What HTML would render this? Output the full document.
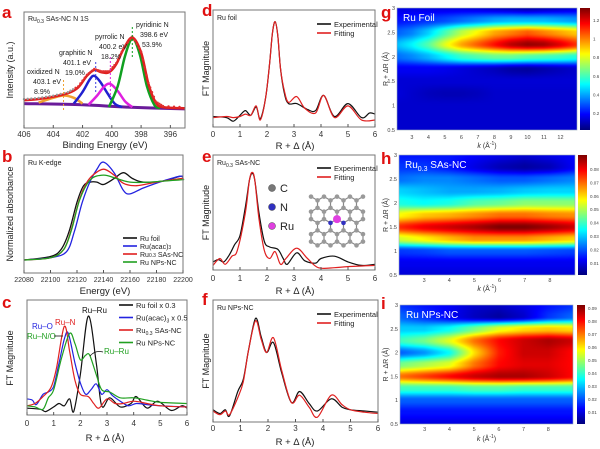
<!DOCTYPE html>
<html><head><meta charset="utf-8">
<style>
html,body{margin:0;padding:0;background:#fff;}
body{width:600px;height:449px;overflow:hidden;position:relative;font-family:"Liberation Sans",sans-serif;}
svg{position:absolute;left:0;top:0;}
canvas{position:absolute;}
</style></head>
<body>
<canvas id="cg" style="left:397px;top:8px" width="180" height="122"></canvas>
<canvas id="ch" style="left:399px;top:155px" width="176" height="120"></canvas>
<canvas id="ci" style="left:400px;top:305px" width="173" height="119"></canvas>
<canvas id="bg" style="left:580px;top:8px" width="10" height="122"></canvas>
<canvas id="bh" style="left:578px;top:155px" width="9" height="120"></canvas>
<canvas id="bi" style="left:577px;top:305px" width="8" height="119"></canvas>
<svg id="s" width="600" height="449" xmlns="http://www.w3.org/2000/svg"></svg>
<script>
// ---------- DATA ----------
const aEnvX=[406,405,404,403,402.3,401.7,401.2,400.7,400.2,399.7,399.2,398.6,398,397.5,397,396.5,395];
const aEnvY=[0.24,0.25,0.27,0.30,0.35,0.45,0.50,0.48,0.48,0.55,0.68,0.78,0.65,0.38,0.22,0.18,0.17];
const aBaseX=[406,402,399,395];
const aBaseY=[0.21,0.2,0.18,0.165];
const aPyrdX=[400.2,399.6,399.1,398.6,398.1,397.6,397.1,396.7];
const aPyrdY=[0.18,0.36,0.62,0.77,0.64,0.36,0.2,0.17];
const aPyrrX=[401.6,401,400.5,400.1,399.6,399.1,398.6];
const aPyrrY=[0.2,0.28,0.36,0.38,0.32,0.23,0.18];
const aGrapX=[402.6,402,401.5,401.2,400.8,400.3,399.8,399.3];
const aGrapY=[0.21,0.31,0.42,0.45,0.4,0.3,0.21,0.18];
const aOxiX=[405,404,403.3,402.6,402];
const aOxiY=[0.22,0.26,0.28,0.26,0.21];
const bFoilX=[22080,22100,22108,22114,22120,22125,22130,22135,22140,22148,22155,22162,22170,22185,22198,22200];
const bFoilY=[0.11,0.14,0.2,0.35,0.6,0.74,0.77,0.77,0.75,0.8,0.85,0.8,0.77,0.78,0.82,0.81];
const bAcacX=[22080,22100,22112,22118,22124,22130,22135,22140,22148,22155,22160,22170,22185,22198,22200];
const bAcacY=[0.11,0.13,0.18,0.35,0.6,0.78,0.88,0.94,0.85,0.7,0.67,0.72,0.78,0.82,0.81];
const bSasX=[22080,22100,22110,22116,22122,22127,22132,22140,22148,22155,22165,22180,22198,22200];
const bSasY=[0.11,0.13,0.2,0.38,0.63,0.76,0.83,0.88,0.83,0.76,0.74,0.77,0.8,0.8];
const bNpsX=[22080,22100,22110,22116,22122,22130,22140,22150,22160,22175,22198,22200];
const bNpsY=[0.11,0.13,0.2,0.37,0.62,0.79,0.83,0.8,0.77,0.77,0.79,0.79];
const cFoilX=[0,0.5,0.7,1.0,1.2,1.4,1.6,1.75,2.0,2.3,2.6,2.8,3.1,3.5,3.9,4.1,4.5,4.9,5.4,5.8,6];
const cFoilY=[0.06,0.05,0.03,0.07,0.1,0.08,0.14,0.03,0.35,0.86,0.45,0.08,0.15,0.07,0.1,0.16,0.06,0.12,0.04,0.08,0.06];
const cAcacX=[0,0.2,0.35,0.6,0.8,1.0,1.2,1.4,1.55,1.8,2.0,2.2,2.4,2.6,2.8,3.0,3.2,3.5,3.8,4.1,4.5,5.0,6];
const cAcacY=[0.14,0.13,0.09,0.18,0.2,0.25,0.45,0.66,0.71,0.45,0.28,0.18,0.22,0.27,0.18,0.22,0.17,0.12,0.08,0.1,0.09,0.08,0.07];
const cSasX=[0,0.3,0.6,0.9,1.1,1.4,1.6,1.8,2.0,2.3,2.5,2.7,3.0,3.3,3.6,4.0,4.5,5,6];
const cSasY=[0.08,0.1,0.16,0.24,0.4,0.77,0.55,0.3,0.18,0.16,0.1,0.06,0.14,0.1,0.1,0.12,0.1,0.08,0.07];
const cNpsX=[0,0.3,0.6,0.8,1.0,1.3,1.6,1.8,2.0,2.2,2.35,2.6,2.8,3.1,3.5,4.0,4.5,5,6];
const cNpsY=[0.08,0.07,0.05,0.15,0.22,0.5,0.71,0.62,0.48,0.52,0.52,0.35,0.22,0.2,0.15,0.15,0.13,0.11,0.1];
const dExpX=[0,0.5,0.75,1.0,1.2,1.4,1.6,1.75,1.95,2.1,2.2,2.3,2.4,2.5,2.65,2.8,3.1,3.5,3.8,4.1,4.5,5.0,5.5,5.8,6];
const dExpY=[0.09,0.08,0.05,0.1,0.14,0.1,0.17,0.07,0.25,0.55,0.8,0.9,0.78,0.5,0.28,0.2,0.2,0.15,0.14,0.27,0.09,0.2,0.08,0.12,0.11];
const dFitX=[0,0.5,0.75,1.0,1.2,1.4,1.6,1.75,1.95,2.1,2.2,2.3,2.4,2.5,2.65,2.8,3.1,3.4,3.8,4.1,4.5,5.0,5.5,6];
const dFitY=[0.08,0.09,0.08,0.09,0.11,0.1,0.18,0.06,0.25,0.55,0.8,0.9,0.78,0.5,0.3,0.21,0.26,0.16,0.12,0.27,0.08,0.18,0.06,0.06];
const eExpX=[0,0.2,0.4,0.6,0.8,1.0,1.2,1.35,1.45,1.55,1.7,1.9,2.1,2.4,2.6,2.75,3.1,3.4,3.8,4.0,4.5,5,5.5,6];
const eExpY=[0.07,0.09,0.07,0.13,0.22,0.3,0.55,0.78,0.84,0.78,0.5,0.25,0.2,0.18,0.1,0.05,0.15,0.08,0.06,0.1,0.12,0.07,0.04,0.05];
const eFitX=[0,0.25,0.45,0.7,0.9,1.2,1.35,1.45,1.55,1.7,1.9,2.1,2.3,2.5,2.7,3.1,3.5,3.9,4.5,5,6];
const eFitY=[0.04,0.1,0.05,0.12,0.17,0.5,0.78,0.85,0.78,0.45,0.17,0.1,0.16,0.05,0.1,0.19,0.1,0.02,0.02,0.03,0.04];
const fExpX=[0,0.25,0.45,0.6,0.9,1.1,1.3,1.55,1.75,1.95,2.2,2.5,2.85,3.15,3.5,3.8,4.3,4.7,5,5.5,6];
const fExpY=[0.1,0.07,0.1,0.05,0.25,0.35,0.6,0.85,0.7,0.57,0.65,0.4,0.16,0.25,0.15,0.09,0.19,0.12,0.1,0.09,0.08];
const fFitX=[0,0.25,0.45,0.6,0.9,1.1,1.3,1.55,1.75,1.95,2.2,2.5,2.85,3.15,3.5,3.8,4.3,4.7,5,5.5,6];
const fFitY=[0.09,0.06,0.09,0.06,0.2,0.33,0.6,0.83,0.68,0.57,0.69,0.42,0.16,0.22,0.12,0.04,0.22,0.14,0.1,0.08,0.07];
const gK=[2,3,4,5,6,7,8,9,10,11,12,13];
const gGrid=[
[.15,.15,.15,.15,.15,.14,.12,.1,.08,.1,.12,.14],
[.2,.22,.25,.28,.32,.36,.4,.42,.42,.42,.4,.38],
[.3,.35,.45,.6,.75,.85,.95,1.0,1.05,1.0,.95,.9],
[.42,.5,.62,.8,.95,1.05,1.15,1.25,1.3,1.28,1.2,1.1],
[.32,.36,.42,.5,.58,.62,.65,.65,.62,.6,.58,.55],
[.17,.17,.17,.16,.14,.12,.1,.07,.06,.08,.1,.12],
[.13,.13,.13,.13,.13,.13,.13,.13,.13,.13,.13,.13],
[.14,.12,.1,.09,.09,.1,.12,.12,.12,.12,.12,.12],
[.12,.12,.12,.12,.12,.12,.12,.12,.12,.12,.12,.12],
[.12,.12,.12,.12,.12,.12,.12,.12,.12,.12,.12,.12],
[.12,.12,.12,.12,.12,.12,.12,.12,.12,.12,.12,.12]];
const hK=[2,3,4,5,6,7,8,9];
const hGrid=[
[.013,.013,.013,.011,.009,.007,.009,.011],
[.016,.016,.013,.009,.005,.003,.005,.011],
[.021,.023,.023,.021,.019,.019,.021,.023],
[.03,.028,.026,.026,.027,.029,.03,.03],
[.036,.034,.036,.041,.043,.046,.046,.046],
[.056,.061,.063,.066,.069,.069,.067,.066],
[.075,.08,.083,.086,.09,.09,.087,.083],
[.052,.057,.062,.066,.066,.066,.063,.06],
[.016,.017,.019,.019,.019,.019,.018,.017],
[.01,.01,.01,.01,.01,.01,.01,.01],
[.008,.008,.008,.008,.008,.008,.008,.008]];
const iK=[2,3,4,5,6,7,8,9];
const iGrid=[
[.016,.013,.011,.007,.006,.009,.013,.016],
[.021,.016,.011,.006,.003,.007,.016,.021],
[.03,.03,.035,.045,.055,.06,.062,.06],
[.04,.045,.055,.07,.08,.085,.088,.085],
[.02,.025,.035,.06,.078,.085,.085,.08],
[.045,.05,.055,.07,.08,.083,.083,.08],
[.07,.075,.08,.085,.088,.088,.085,.08],
[.04,.04,.04,.042,.042,.04,.04,.04],
[.02,.02,.02,.02,.02,.02,.02,.02],
[.013,.013,.013,.013,.013,.013,.013,.013],
[.009,.009,.009,.009,.009,.009,.009,.009]];
const rTicks=["3","2.5","2","1.5","1","0.5"];
const gKTicks=[3,4,5,6,7,8,9,10,11,12];
const hKTicks=[3,4,5,6,7,8];
const gCbTicks=["1.2","1","0.8","0.6","0.4","0.2"];
const hCbTicks=["0.08","0.07","0.06","0.05","0.04","0.03","0.02","0.01"];
const iCbTicks=["0.09","0.08","0.07","0.06","0.05","0.04","0.03","0.02","0.01"];

// ---------- helpers ----------
const S=document.getElementById('s');
const NS='http://www.w3.org/2000/svg';
function el(tag,attrs,parent){const e=document.createElementNS(NS,tag);for(const k in attrs)e.setAttribute(k,attrs[k]);(parent||S).appendChild(e);return e;}
function txt(x,y,t,size,opts){opts=opts||{};const e=el('text',{x:x,y:y,'font-size':size,fill:opts.fill||'#222','text-anchor':opts.anchor||'start','font-weight':opts.bold?'bold':'normal'});if(opts.rot)e.setAttribute('transform','rotate(-90 '+x+' '+y+')');e.textContent=t;return e;}
function smooth(pts){let d='M'+pts[0][0].toFixed(1)+' '+pts[0][1].toFixed(1);for(let i=0;i<pts.length-1;i++){const p0=pts[i-1]||pts[i],p1=pts[i],p2=pts[i+1],p3=pts[i+2]||p2;const c1=[p1[0]+(p2[0]-p0[0])/6,p1[1]+(p2[1]-p0[1])/6],c2=[p2[0]-(p3[0]-p1[0])/6,p2[1]-(p3[1]-p1[1])/6];d+=' C'+c1[0].toFixed(1)+' '+c1[1].toFixed(1)+' '+c2[0].toFixed(1)+' '+c2[1].toFixed(1)+' '+p2[0].toFixed(1)+' '+p2[1].toFixed(1);}return d;}
function axis(x0,x1,y0,y1,dmin,dmax){return {sx:v=>x0+(v-dmin)/(dmax-dmin)*(x1-x0),sy:v=>y1-v*(y1-y0),x0,x1,y0,y1};}
function frame(ax,name){const r=el('rect',{x:ax.x0,y:ax.y0,width:ax.x1-ax.x0,height:ax.y1-ax.y0,fill:'none',stroke:'#777','stroke-width':1});}
function series(ax,xs,ys,color,w,name){const p=el('path',{d:smooth(xs.map((x,i)=>[ax.sx(x),ax.sy(ys[i])])),fill:'none',stroke:color,'stroke-width':w,'stroke-linejoin':'round'});return p;}
function xticks(ax,vals,ty,fs){vals.forEach(v=>{const x=ax.sx(v);el('line',{x1:x,x2:x,y1:ax.y1,y2:ax.y1-3,stroke:'#555'});const t=txt(x,ty,String(v),fs||8,{anchor:'middle',fill:'#333'});});}
function letter(x,y,l){const t=txt(x,y,l,17,{fill:'#e01010',bold:true});}
function legend(x,y,dy,items,size){items.forEach((it,i)=>{const g=el('g',{});el('line',{x1:x,x2:x+14,y1:y+i*dy-3,y2:y+i*dy-3,stroke:it[1],'stroke-width':1.6},g);const t=el('text',{x:x+17,y:y+i*dy,'font-size':size,fill:'#222'},g);t.innerHTML=it[0];});}

// ---------- panel a ----------
letter(2,18,'a');
const A=axis(24,185,12,128,406,395);
series(A,aBaseX,aBaseY,'#6a1b9a',3,'baseline-fit');
series(A,aOxiX,aOxiY,'#f0a030',2.5,'oxidized-n-peak');
series(A,aGrapX,aGrapY,'#2020d0',2.5,'graphitic-n-peak');
series(A,aPyrrX,aPyrrY,'#e020e0',2.5,'pyrrolic-n-peak');
series(A,aPyrdX,aPyrdY,'#10a020',2.5,'pyridinic-n-peak');
series(A,aEnvX,aEnvY,'#e02020',2.5,'envelope-fit');
for(let i=0;i<aEnvX.length-1;i++){for(let s=0;s<4;s++){const x=aEnvX[i]+(aEnvX[i+1]-aEnvX[i])*s/4;const y=aEnvY[i]+(aEnvY[i+1]-aEnvY[i])*s/4;const c=el('circle',{cx:A.sx(x),cy:A.sy(y)-1,r:1.2,fill:x>402.5?'#999':'#e03030'});}}
[[403.3,80,112,'#f0a030'],[401.1,62,92,'#4040e0'],[400.1,57,98,'#e020e0'],[398.6,27,57,'#10a020']].forEach(v=>{const l=el('line',{x1:A.sx(v[0]),x2:A.sx(v[0]),y1:v[1],y2:v[2],stroke:v[3],'stroke-dasharray':'2,2','stroke-width':1});});
frame(A,'plot-frame-a');
xticks(A,[406,404,402,400,398,396],137);
(function(){const t=el('text',{x:28,y:21,'font-size':7,fill:'#222'});t.innerHTML='Ru<tspan font-size="5" dy="2">0.3</tspan><tspan dy="-2"> SAs-NC  N 1S</tspan>';})();
[['oxidized N',27,74],['403.1 eV',33,84],['8.9%',34,94],['graphitic N',59,55],['401.1 eV',63,65],['19.0%',65,75],['pyrrolic N',95,39],['400.2 eV',99,49],['18.2%',101,59],['pyridinic N',136,27],['398.6 eV',140,37],['53.9%',142,47]].forEach(v=>{const t=txt(v[1],v[2],v[0],7);});
txt(105,148,'Binding Energy (eV)',9.5,{anchor:'middle'});
txt(13,70,'Intensity (a.u.)',9,{anchor:'middle',rot:true});

// ---------- panel b ----------
letter(2,162,'b');
const B=axis(24,183,155,273,22080,22200);
series(B,bFoilX,bFoilY,'#111',1.3,'ru-foil-line');
series(B,bAcacX,bAcacY,'#2323e0',1.3,'ru-acac-line');
series(B,bSasX,bSasY,'#e02020',1.3,'ru-sas-line');
series(B,bNpsX,bNpsY,'#20a020',1.3,'ru-nps-line');
frame(B,'plot-frame-b');
xticks(B,[22080,22100,22120,22140,22160,22180,22200],282,7);
txt(28,165,'Ru K-edge',7);
legend(123,241,8,[['Ru foil','#111'],['Ru(acac)<tspan font-size="5">3</tspan>','#2323e0'],['Ru<tspan font-size="5">0.3</tspan> SAs-NC','#e02020'],['Ru NPs-NC','#20a020']],7);
txt(105,294,'Energy (eV)',9.5,{anchor:'middle'});
txt(13,214,'Normalized absorbance',9,{anchor:'middle',rot:true});

// ---------- panel c ----------
letter(2,308,'c');
const C=axis(27,187,300,415,0,6);
series(C,cFoilX,cFoilY,'#111',1.2,'ru-foil-ft');
series(C,cAcacX,cAcacY,'#2323e0',1.2,'ru-acac-ft');
series(C,cSasX,cSasY,'#e02020',1.2,'ru-sas-ft');
series(C,cNpsX,cNpsY,'#20a020',1.2,'ru-nps-ft');
frame(C,'plot-frame-c');
xticks(C,[0,1,2,3,4,5,6],426);
legend(119,308,12.5,[['Ru foil x 0.3','#111'],['Ru(acac)<tspan font-size="5" dy="2">3</tspan><tspan dy="-2"> x 0.5</tspan>','#2323e0'],['Ru<tspan font-size="5" dy="2">0.3</tspan><tspan dy="-2"> SAs-NC</tspan>','#e02020'],['Ru NPs-NC','#20a020']],7.5);
[['Ru–Ru',82,313,'#111'],['Ru–O',32,329,'#2323e0'],['Ru–N',55,325,'#e02020'],['Ru–N/O',27,339,'#20a020'],['Ru–Ru',104,354,'#20a020']].forEach(v=>{const t=txt(v[1],v[2],v[0],8,{fill:v[3]});});
el('line',{x1:54,x2:63,y1:336,y2:336,stroke:'#111','stroke-width':0.8});
el('path',{d:'M103 352 Q95 350 90 356',fill:'none',stroke:'#111','stroke-width':0.8});
txt(105,441,'R + Δ (Å)',9.5,{anchor:'middle'});
txt(13,358,'FT Magnitude',9,{anchor:'middle',rot:true});

// ---------- panels d,e,f ----------
function fitPanel(L,ly,ax,ex,ey,fx,fy,title,legY,tickY,titleY,id){
 letter(202,ly,L);
 series(ax,ex,ey,'#111',1.2,'experimental-line-'+id);
 series(ax,fx,fy,'#e02020',1.2,'fitting-line-'+id);
 frame(ax,'plot-frame-'+id);
 xticks(ax,[0,1,2,3,4,5,6],tickY);
 const t=el('text',{x:ax.x0+4,y:ax.y0+10,'font-size':7,fill:'#222'});t.innerHTML=title;
 legend(317,legY,9,[['Experimental','#111'],['Fitting','#e02020']],7.5);
 txt(295,titleY,'R + Δ (Å)',9.5,{anchor:'middle'});
 txt(209,(ax.y0+ax.y1)/2,'FT Magnitude',9,{anchor:'middle',rot:true});
}
fitPanel('d',16,axis(213,375,10,127,0,6),dExpX,dExpY,dFitX,dFitY,'Ru foil',27,137,149,'d');
fitPanel('e',162,axis(213,375,155,270,0,6),eExpX,eExpY,eFitX,eFitY,'Ru<tspan font-size="5" dy="2">0.3</tspan><tspan dy="-2"> SAs-NC</tspan>',171,281,294,'e');
fitPanel('f',305,axis(213,378,300,422,0,6),fExpX,fExpY,fFitX,fFitY,'Ru NPs-NC',317,431,445,'f');
[['C','#777',188],['N','#3030c0',207],['Ru','#e040e0',226]].forEach(v=>{const g=el('g',{});el('circle',{cx:272,cy:v[2],r:3.5,fill:v[1],stroke:'#444','stroke-width':0.5},g);const t=el('text',{x:280,y:v[2]+4,'font-size':11,fill:'#222'},g);t.textContent=v[0];});
(function(){const g=el('g',{});
 const cx=337,cy=221,b=7.5;
 const nodes=[];for(let i=-3;i<=3;i++){for(let j=-4;j<=4;j++){const x=cx+j*b*0.866;const y=cy+i*b*1.5+(((i+j)&1)?b*0.25:-b*0.25);if(Math.abs(x-cx)<30&&Math.abs(y-cy)<30)nodes.push([x,y]);}}
 nodes.forEach((p,a)=>nodes.forEach((q,k)=>{if(k>a){const d=Math.hypot(p[0]-q[0],p[1]-q[1]);if(d<b*1.05&&d>b*0.5)el('line',{x1:p[0],y1:p[1],x2:q[0],y2:q[1],stroke:'#888','stroke-width':1.2},g);}}));
 nodes.forEach(p=>{const d=Math.hypot(p[0]-cx,p[1]-cy);const isN=d>3&&d<b*1.1;el('circle',{cx:p[0],cy:p[1],r:d<3?4:2.3,fill:d<3?'#e040e0':(isN?'#3030c0':'#999')},g);});
 if(!nodes.some(p=>Math.hypot(p[0]-cx,p[1]-cy)<3))el('circle',{cx:cx,cy:cy,r:4,fill:'#e040e0'},g);
})();

// ---------- heatmaps ----------
function jet(t){t=Math.max(0,Math.min(1,t));const r=Math.min(1,Math.max(0,1.5-Math.abs(4*t-3))),g=Math.min(1,Math.max(0,1.5-Math.abs(4*t-2))),b=Math.min(1,Math.max(0,1.5-Math.abs(4*t-1)));return [r*255|0,g*255|0,b*255|0];}
function heat(id,grid,ks,kmin,kmax,vmin,vmax){const cv=document.getElementById(id),ctx=cv.getContext('2d'),W=cv.width,H=cv.height,img=ctx.createImageData(W,H);
 const nr=grid.length,nc=ks.length;
 for(let py=0;py<H;py++){const R=3-2.5*(py+0.5)/H;let fr=(3-R)/0.25;fr=Math.max(0,Math.min(nr-1.0001,fr));const r0=Math.floor(fr),tr=fr-r0;const sr=tr*tr*(3-2*tr);
  for(let px=0;px<W;px++){const k=kmin+(kmax-kmin)*(px+0.5)/W;let fc=(k-ks[0])/(ks[1]-ks[0]);fc=Math.max(0,Math.min(nc-1.0001,fc));const c0=Math.floor(fc),tc=fc-c0;
   const v=(grid[r0][c0]*(1-tc)+grid[r0][c0+1]*tc)*(1-sr)+(grid[r0+1][c0]*(1-tc)+grid[r0+1][c0+1]*tc)*sr;
   const col=jet((v-vmin)/(vmax-vmin));const o=(py*W+px)*4;img.data[o]=col[0];img.data[o+1]=col[1];img.data[o+2]=col[2];img.data[o+3]=255;}}
 ctx.putImageData(img,0,0);}
function cbar(id){const cv=document.getElementById(id),ctx=cv.getContext('2d');for(let y=0;y<cv.height;y++){const c=jet(1-y/(cv.height-1));ctx.fillStyle='rgb('+c+')';ctx.fillRect(0,y,cv.width,1);}}
heat('cg',gGrid,gK,2.1,13,0.02,1.33);
heat('ch',hGrid,hK,2.0,9.0,0.0,0.09);
heat('ci',iGrid,iK,2.0,9.0,0.0,0.092);
cbar('bg');cbar('bh');cbar('bi');
function hmAxes(L,ly,x0,x1,y0,y1,kmin,kmax,kt,tickY,titleY,cbx,cbTicks,cbTop,cbStep,label,id){
 letter(381,ly,L);
 el('rect',{x:x0,y:y0,width:x1-x0,height:y1-y0,fill:'none',stroke:'#9ab','stroke-width':0.6});
 kt.forEach(k=>{const x=x0+(k-kmin)/(kmax-kmin)*(x1-x0);const t=txt(x,tickY,String(k),5.5,{anchor:'middle',fill:'#444'});});
 rTicks.forEach((v,i)=>{const y=y0+i*(y1-y0)/5;const t=txt(x0-2,y+2,v,5.5,{anchor:'end',fill:'#444'});});
 const kt2=el('text',{x:(x0+x1)/2,y:titleY,'font-size':7,fill:'#333','text-anchor':'middle'});kt2.innerHTML='<tspan font-style="italic">k</tspan> (Å<tspan font-size="5" dy="-3">-1</tspan><tspan dy="3">)</tspan>';
 txt(388,(y0+y1)/2,'R + ΔR (Å)',7,{anchor:'middle',rot:true,fill:'#333'});
 cbTicks.forEach((v,i)=>{const t=txt(cbx,cbTop+i*cbStep+2,v,4.5,{fill:'#444'});});
 const lt=el('text',{x:x0+6,y:y0+13,'font-size':10,fill:'#fff'});lt.innerHTML=label;
}
hmAxes('g',18,397,577,8,130,2.1,13,gKTicks,139,148,593,gCbTicks,20,18.6,'Ru Foil','g');
hmAxes('h',164,399,575,155,275,2,9,hKTicks,282,291,590,hCbTicks,169,13.4,'Ru<tspan font-size="7" dy="3">0.3</tspan><tspan dy="-3"> SAs-NC</tspan>','h');
hmAxes('i',309,400,573,305,424,2,9,hKTicks,431,441,588,iCbTicks,308,13,'Ru NPs-NC','i');
</script>
</body></html>
